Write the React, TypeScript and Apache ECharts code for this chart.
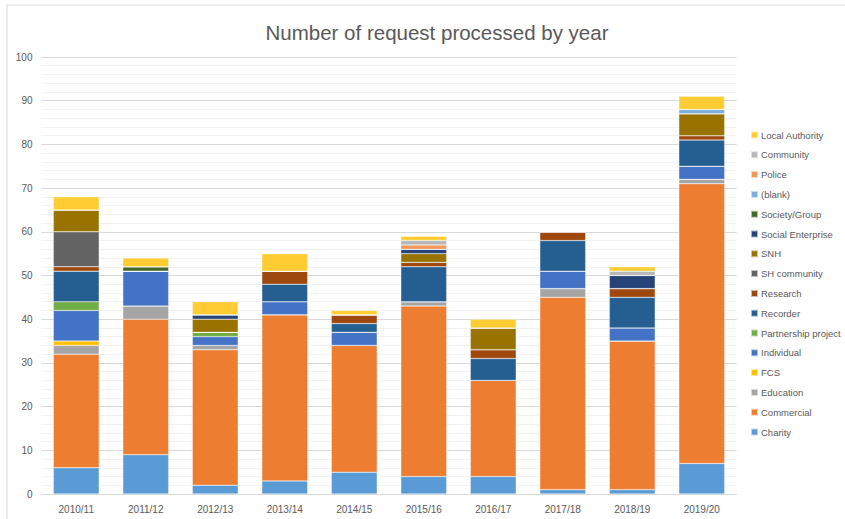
import React, { useEffect, useRef } from "react";
import * as echarts from "echarts";

const categories = ["2010/11", "2011/12", "2012/13", "2013/14", "2014/15", "2015/16", "2016/17", "2017/18", "2018/19", "2019/20"];

const charity = [6, 9, 2, 3, 5, 4, 4, 1, 1, 7];
const commercial = [26, 31, 31, 38, 29, 39, 22, 44, 34, 64];
const education = [2, 3, 1, 0, 0, 1, 0, 2, 0, 1];
const fcs = [1, 0, 0, 0, 0, 0, 0, 0, 0, 0];
const individual = [7, 8, 2, 3, 3, 0, 0, 4, 3, 3];
const partnership = [2, 0, 1, 0, 0, 0, 0, 0, 0, 0];
const recorder = [7, 0, 0, 4, 2, 8, 5, 7, 7, 6];
const research = [1, 0, 0, 3, 2, 1, 2, 2, 2, 1];
const shCommunity = [8, 0, 0, 0, 0, 0, 0, 0, 0, 0];
const snh = [5, 0, 3, 0, 0, 2, 5, 0, 0, 5];
const socialEnterprise = [0, 0, 1, 0, 0, 1, 0, 0, 3, 0];
const societyGroup = [0, 1, 0, 0, 0, 0, 0, 0, 0, 0];
const blank = [0, 0, 0, 0, 0, 0, 0, 0, 0, 1];
const police = [0, 0, 0, 0, 0, 1, 0, 0, 0, 0];
const community = [0, 0, 0, 0, 0, 1, 0, 0, 1, 0];
const localAuthority = [3, 2, 3, 4, 1, 1, 2, 0, 1, 3];

const seriesDefs: [string, number[], string][] = [
  ["Charity", charity, "#5B9BD5"],
  ["Commercial", commercial, "#ED7D31"],
  ["Education", education, "#A5A5A5"],
  ["FCS", fcs, "#FFC000"],
  ["Individual", individual, "#4472C4"],
  ["Partnership project", partnership, "#70AD47"],
  ["Recorder", recorder, "#255E91"],
  ["Research", research, "#9E480E"],
  ["SH community", shCommunity, "#636363"],
  ["SNH", snh, "#997300"],
  ["Social Enterprise", socialEnterprise, "#264478"],
  ["Society/Group", societyGroup, "#43682B"],
  ["(blank)", blank, "#7CAFDD"],
  ["Police", police, "#F1975A"],
  ["Community", community, "#B7B7B7"],
  ["Local Authority", localAuthority, "#FFCD33"],
];

const yMin = 0;
const yMax = 100;
const yInterval = 10;

export default function App() {
  const ref = useRef<HTMLDivElement>(null);
  useEffect(() => {
    if (!ref.current) return;
    const chart = echarts.init(ref.current, null, { renderer: "svg" });
    const font = "'Liberation Sans', Arial, sans-serif";
    chart.setOption({
      animation: false,
      backgroundColor: "#ffffff",
      textStyle: { fontFamily: font },
      title: {
        text: "Number of request processed by year",
        left: 432,
        textAlign: "center",
        top: 17,
        textStyle: { fontSize: 20.5, fontWeight: "normal", color: "#595959", fontFamily: font },
      },
      graphic: [
        {
          type: "rect",
          shape: { x: 7, y: 5, width: 900, height: 600 },
          style: { fill: "none", stroke: "#d9d9d9", lineWidth: 1 },
          silent: true,
          z: -10,
        },
      ],
      legend: {
        orient: "vertical",
        left: 750,
        top: 130,
        padding: 0,
        itemWidth: 7,
        itemHeight: 7,
        itemGap: 9.8,
        icon: "rect",
        data: seriesDefs.map((s) => s[0]).reverse(),
        textStyle: { fontSize: 9.5, lineHeight: 10, color: "#595959", fontFamily: font, padding: [0, 0, 0, -2] },
      },
      grid: { left: 41.5, right: 108.5, top: 57, bottom: 25, containLabel: false },
      xAxis: {
        type: "category",
        data: categories,
        axisLine: { lineStyle: { color: "#d9d9d9" } },
        axisTick: { show: false },
        axisLabel: { color: "#595959", fontSize: 10, margin: 10 },
      },
      yAxis: {
        type: "value",
        min: yMin,
        max: yMax,
        interval: yInterval,
        axisLine: { show: false },
        axisTick: { show: false },
        axisLabel: { color: "#595959", fontSize: 10, margin: 9 },
        splitLine: { lineStyle: { color: "#d9d9d9" } },
        minorTick: { show: false, splitNumber: 5 },
        minorSplitLine: { show: true, lineStyle: { color: "#f2f2f2" } },
      },
      series: seriesDefs.map(([name, data, color]) => ({
        name,
        type: "bar",
        stack: "total",
        data,
        barCategoryGap: "34%",
        itemStyle: { color, borderColor: "rgba(255,255,255,0.6)", borderWidth: 0.5 },
      })),
    });
    return () => chart.dispose();
  }, []);
  return (
    <div
      ref={ref}
      style={{ position: "absolute", left: 0, top: 0, width: 845, height: 519 }}
    />
  );
}
